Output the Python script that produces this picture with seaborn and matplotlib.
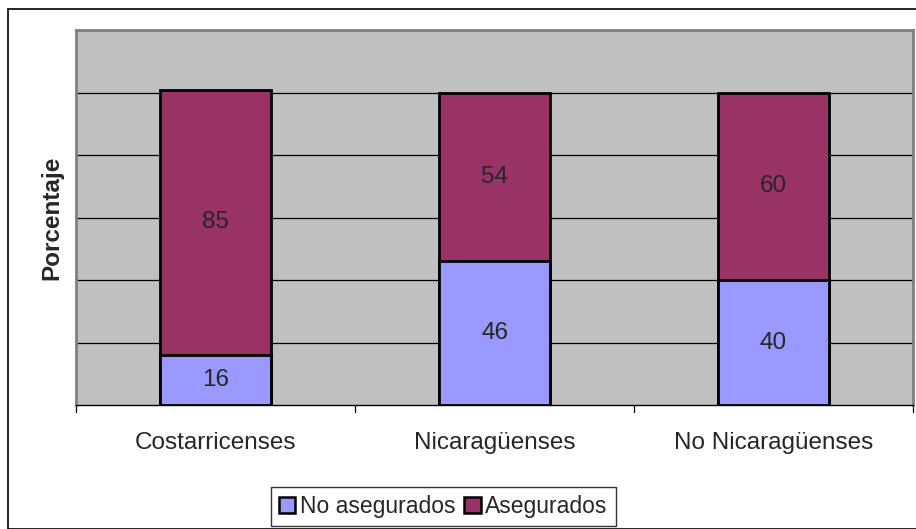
import matplotlib
matplotlib.use("Agg")
import matplotlib.pyplot as plt
from matplotlib.patches import Rectangle, Patch
import pandas as pd
import seaborn as sns

categorias = ["Costarricenses", "Nicaragüenses", "No Nicaragüenses"]
no_asegurados = [16, 46, 40]
asegurados = [85, 54, 60]
series = ["No asegurados", "Asegurados"]

sns.set_style("white")
plt.rcParams["font.family"] = ["Liberation Sans", "DejaVu Sans"]

df = pd.DataFrame({"categoria": categorias,
                   "no_aseg": no_asegurados,
                   "aseg": asegurados})
df["total"] = df["no_aseg"] + df["aseg"]

fig = plt.figure(figsize=(9.16, 5.29), dpi=100)
ax = fig.add_axes([0.083, 0.234, 0.9137, 0.709])
ax.set_facecolor("#C0C0C0")

# stacked: total first (maroon), then the bottom part on top of it
sns.barplot(data=df, x="categoria", y="total", color="#993366", width=0.4,
            edgecolor="black", linewidth=2, saturation=1, ax=ax, zorder=3)
sns.barplot(data=df, x="categoria", y="no_aseg", color="#9999FF", width=0.4,
            edgecolor="black", linewidth=2, saturation=1, ax=ax, zorder=3)

ax.set_ylim(0, 120)
ax.set_xlim(-0.5, 2.5)
for y in [20, 40, 60, 80, 100]:
    ax.axhline(y, color="black", lw=0.9, zorder=1)
ax.set_yticks([])
ax.set_xticks([0, 1, 2])
ax.set_xticklabels(categorias, fontsize=17.5)
ax.tick_params(axis="x", length=0, pad=19)
for xb in [-0.5, 0.5, 1.5, 2.5]:
    ax.plot([xb, xb], [0, -2.2], color="black", lw=0.9, clip_on=False)
ax.set_xlabel("")
ax.set_ylabel("Porcentaje", fontsize=17.5, fontweight="bold", labelpad=9)

for s in ax.spines.values():
    s.set_color("#808080")
    s.set_linewidth(2)
ax.spines["bottom"].set_color("black")
ax.spines["bottom"].set_linewidth(1)

for i in range(len(categorias)):
    ax.text(i, no_asegurados[i] / 2, str(no_asegurados[i]), ha="center",
            va="center", fontsize=17.5, zorder=5)
    ax.text(i, no_asegurados[i] + asegurados[i] / 2, str(asegurados[i]),
            ha="center", va="center", fontsize=17.5, zorder=5)

handles = [Patch(facecolor="#9999FF", edgecolor="black", lw=1.8),
           Patch(facecolor="#993366", edgecolor="black", lw=1.8)]
fig.legend(handles, series, loc="center", bbox_to_anchor=(0.484, 0.043),
           ncol=2, fontsize=16.5, frameon=True, fancybox=False,
           edgecolor="black", handlelength=0.7, handleheight=0.7,
           handletextpad=0.2, columnspacing=0.4, borderpad=0.35)

fig.patches.append(Rectangle((8 / 916, 0), 1, 1 - 9 / 529, transform=fig.transFigure,
                             fill=False, edgecolor="black", lw=1.2))

fig.savefig("out.png", dpi=100)
